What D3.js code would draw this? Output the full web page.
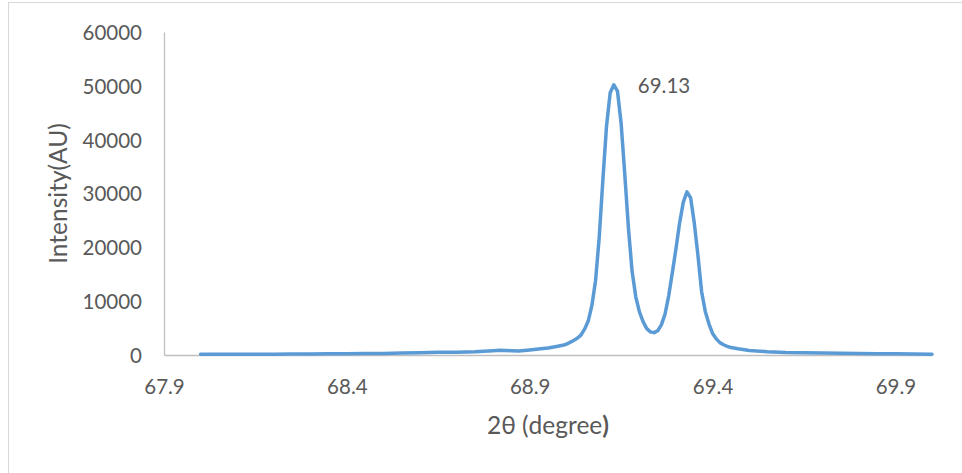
<!DOCTYPE html>
<html>
<head>
<meta charset="utf-8">
<script src="https://cdn.jsdelivr.net/npm/d3@7/dist/d3.min.js"></script>
<style>
  html, body { margin: 0; padding: 0; background: #fff; }
  svg { display: block; }
  text { font-family: Lato, "Open Sans", sans-serif; fill: #595959; }
</style>
</head>
<body>
<svg id="chart" width="962" height="473"></svg>
<script>
// ---- data ----
const twoTheta = [
  68.00, 68.05, 68.10, 68.15, 68.20, 68.25, 68.30, 68.35, 68.40, 68.45,
  68.50, 68.55, 68.60, 68.65, 68.70, 68.75, 68.80, 68.82, 68.85, 68.87,
  68.90, 68.93, 68.95, 68.97, 68.99,
  69.00, 69.01, 69.02, 69.03, 69.04, 69.05, 69.06, 69.07, 69.08, 69.09,
  69.10, 69.11, 69.12, 69.13, 69.14, 69.15, 69.16, 69.17, 69.18, 69.19,
  69.20, 69.21, 69.22, 69.23, 69.24, 69.25, 69.26, 69.27, 69.28, 69.29,
  69.30, 69.31, 69.32, 69.33, 69.34, 69.35, 69.36, 69.37, 69.38, 69.39,
  69.40, 69.41, 69.42, 69.43, 69.44, 69.45, 69.47, 69.50, 69.55, 69.60,
  69.65, 69.70, 69.75, 69.80, 69.85, 69.90, 69.95, 70.00
];
const intensity = [
  150, 130, 150, 140, 160, 170, 190, 210, 230, 260,
  300, 350, 420, 500, 520, 600, 800, 880, 800, 760,
  950, 1150, 1300, 1550, 1800,
  2000, 2350, 2700, 3100, 3700, 4800, 6300, 9200, 13800, 21800,
  32500, 42500, 48700, 50200, 49000, 43000, 33500, 23500, 15500, 10800,
  8000, 6200, 4900, 4300, 4150, 4500, 5600, 7600, 11000, 15300,
  19800, 24600, 28400, 30300, 29200, 24500, 18500, 11800, 8100, 5800,
  4000, 3000, 2300, 1900, 1600, 1400, 1150, 850, 620, 480,
  420, 360, 320, 290, 250, 210, 170, 130
];
const xTicks = [67.9, 68.4, 68.9, 69.4, 69.9];
const yTicks = [0, 10000, 20000, 30000, 40000, 50000, 60000];
const peakLabel = { x: 69.13, y: 50200, text: "69.13" };
const xTitle = "2θ (degree";
const yTitle = "Intensity(AU)";

// ---- layout ----
const svg = d3.select("#chart");
const plot = { left: 164, right: 932, top: 32, bottom: 355 };

const x = d3.scaleLinear().domain([67.9, 70.0]).range([plot.left, plot.right]);
const y = d3.scaleLinear().domain([0, 60000]).range([plot.bottom, plot.top]);

// outer border (only top/left visible in reference)
svg.append("rect")
  .attr("x", 8.5).attr("y", 2.5).attr("width", 1200).attr("height", 1200)
  .attr("fill", "none").attr("stroke", "#d9d9d9").attr("stroke-width", 1);

// y axis
const yAxis = svg.append("g")
  .attr("transform", `translate(${plot.left},0)`)
  .call(d3.axisLeft(y).tickValues(yTicks).tickSize(0).tickPadding(22).tickFormat(d3.format("d")));
yAxis.select(".domain").attr("stroke", "#bfbfbf").attr("stroke-width", 1.3);
yAxis.selectAll("text").style("font-size", "20.5px").attr("fill", "#595959").attr("dy", "0.36em");

// x axis
const xAxis = svg.append("g")
  .attr("transform", `translate(0,${plot.bottom})`)
  .call(d3.axisBottom(x).tickValues(xTicks).tickSize(0).tickPadding(24).tickFormat(d3.format(".1f")));
xAxis.select(".domain").attr("stroke", "#bfbfbf").attr("stroke-width", 1.3);
xAxis.selectAll("text").style("font-size", "20.5px").attr("fill", "#595959");

// line
const line = d3.line()
  .x((d, i) => x(twoTheta[i]))
  .y((d) => y(d));
svg.append("path")
  .datum(intensity)
  .attr("d", line)
  .attr("fill", "none")
  .attr("stroke", "#5b9bd5")
  .attr("stroke-width", 3.5)
  .attr("stroke-linejoin", "round")
  .attr("stroke-linecap", "round");

// peak label
svg.append("text")
  .attr("x", x(peakLabel.x) + 24)
  .attr("y", y(peakLabel.y) + 8)
  .style("font-size", "20.5px")
  .text(peakLabel.text);

// axis titles
const xt = svg.append("text")
  .attr("x", (plot.left + plot.right) / 2)
  .attr("y", 434)
  .attr("text-anchor", "middle")
  .style("font-size", "24.5px");
xt.append("tspan").text(xTitle);
xt.append("tspan").style("font-weight", "bold").text(")");

svg.append("text")
  .attr("transform", `translate(67,${(plot.top + plot.bottom) / 2}) rotate(-90)`)
  .attr("text-anchor", "middle")
  .style("font-size", "24.5px")
  .text(yTitle);
</script>
</body>
</html>
